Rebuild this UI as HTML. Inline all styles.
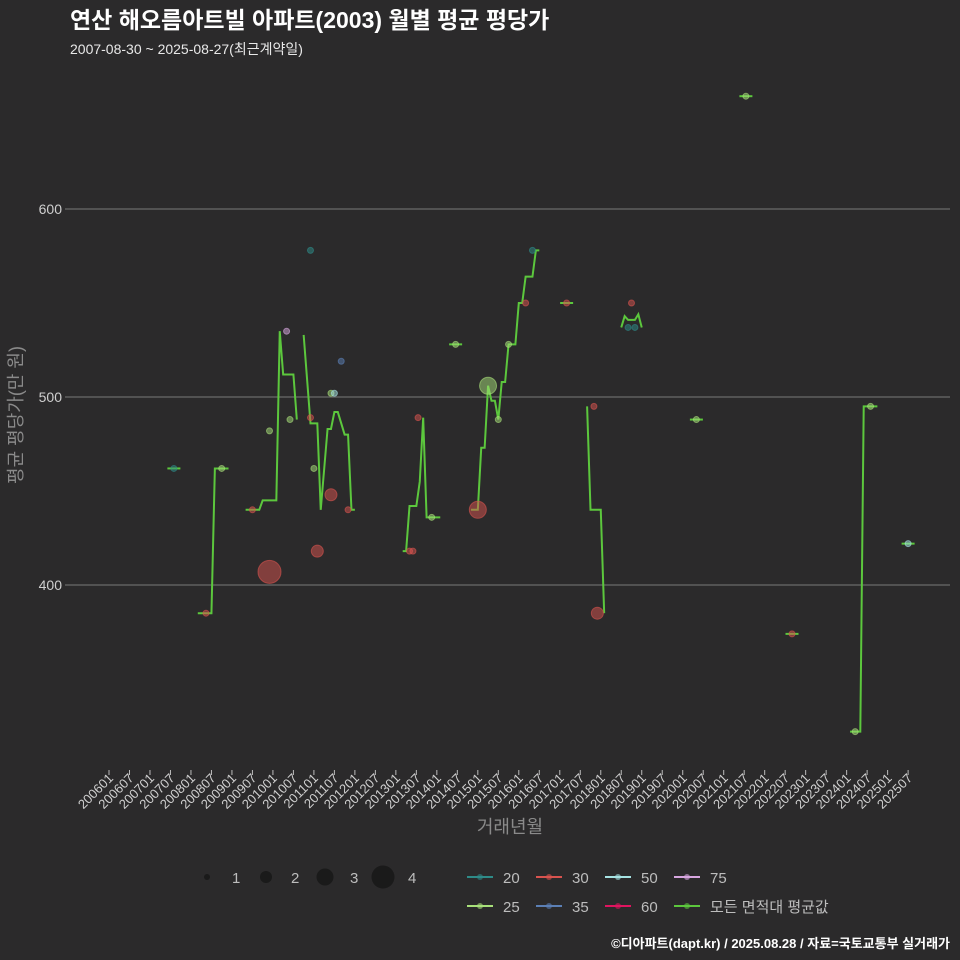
<!DOCTYPE html>
<html><head><meta charset="utf-8">
<style>
body{margin:0;background:#2b2a2b;}
svg{display:block;font-family:"Liberation Sans","Noto Sans CJK KR",sans-serif;}
</style></head>
<body>
<svg id="chart" width="960" height="960" viewBox="0 0 960 960" xmlns="http://www.w3.org/2000/svg">
<rect width="960" height="960" fill="#2b2a2b"/>
<text x="70" y="28" fill="#ffffff" font-size="23" font-weight="bold">연산 해오름아트빌 아파트(2003) 월별 평균 평당가</text>
<text x="70" y="54" fill="#e8e8e8" font-size="14">2007-08-30 ~ 2025-08-27(최근계약일)</text>
<text transform="translate(22,415) rotate(-90)" text-anchor="middle" fill="#8a8a8a" font-size="18">평균 평당가(만 원)</text>
<text x="510" y="833" text-anchor="middle" fill="#8a8a8a" font-size="18">거래년월</text>
<g id="grid"></g><g id="xaxis"></g><g id="lines"></g><g id="points"></g>
<g id="legend"></g>
<text x="950" y="948" text-anchor="end" fill="#ffffff" font-size="13" font-weight="bold">©디아파트(dapt.kr) / 2025.08.28 / 자료=국토교통부 실거래가</text>
</svg>
<script>
// months since 2006-01
const yTicks=[400,500,600];
const xTickLabels=[];for(let y=2006;y<=2025;y++){xTickLabels.push(y+"01");xTickLabels.push(y+"07");}
const avgSegMonths=[[19],[26,30,31,35],[40,44,45,49,50,51,54,55],[57,59,61,62,64,65,66,67,69,70,71,72],[86,87,88,90,91,92,93,97],[101.5],[106,108,109,110,111,112,113,114,115,116,117,119,120,121,122,124,125,126],[134],[140,141,144,145],[150,151,152,154,155,156],[172],[186.5],[200],[217,220,221,225],[234]];
const avgSegValues=[[462],[385,385,462,462],[440,440,445,445,535,512,512,488],[533,486,486,440,483,483,492,492,480,480,440,440],[418,418,442,442,455,489,436,436],[528],[440,440,473,473,506,498,498,488,508,508,528,528,550,550,564,564,578,578],[550],[495,440,440,385],[537,543,541,541,544,537],[488],[660],[374],[322,322,495,495],[422]];
const ptMonths=[19,28.4,33,42,47,47,52,53,59,59,60,61,65,65,66,68,70,88,89,90.5,94.5,101.5,108,111,114,117,122,124,134,142,143,153,152,154,172,186.5,200,218.5,223,234];
const ptValues=[462,385,462,440,407,482,535,488,578,489,462,418,448,502,502,519,440,418,418,489,436,528,440,506,488,528,550,578,550,495,385,550,537,537,488,660,374,322,495,422];
const ptSizes=[20,30,25,30,30,25,75,25,20,30,25,30,30,25,50,35,30,30,30,30,25,25,30,25,25,25,30,20,30,30,30,30,20,20,25,25,30,25,25,50];
const ptCounts=[1,1,1,1,4,1,1,1,1,1,1,2,2,1,1,1,1,1,1,1,1,1,3,3,1,1,1,1,1,1,2,1,1,1,1,1,1,1,1,1];
const colors={20:"#2e8b88",25:"#a8e07a",30:"#d9534f",35:"#5b7fb5",50:"#a6e3e3",60:"#e0145f",75:"#d7a6e0"};
const NS="http://www.w3.org/2000/svg";
const X=m=>109+m*3.415;
const Y=v=>397-(v-500)*1.88;
const R=c=>[0,3,6,8.5,11.5][c];
function mk(t,a,p){const e=document.createElementNS(NS,t);for(const k in a)e.setAttribute(k,a[k]);p.appendChild(e);return e;}
const grid=document.getElementById('grid');
yTicks.forEach(v=>{
 const l=mk('line',{x1:65,x2:950,y1:Y(v),y2:Y(v),stroke:'#6a6a6a','stroke-width':1.2},grid);
 
 
 const t=mk('text',{x:62,y:Y(v)+5,'text-anchor':'end',fill:'#cfcfcf','font-size':14},grid);t.textContent=v;
 
 
});
const xa=document.getElementById('xaxis');
xTickLabels.forEach((lab,i)=>{
 const x=X(i*6);
 const tk=mk('line',{x1:x,x2:x,y1:770,y2:775,stroke:'#bbbbbb','stroke-width':1},xa);
 
 
 const t=mk('text',{transform:`translate(${x+5},${779}) rotate(-45)`,'text-anchor':'end',fill:'#d0d0d0','font-size':13},xa);t.textContent=lab;
 
 
});
const lg=document.getElementById('lines');
avgSegMonths.forEach((ms,i)=>{
 const vs=avgSegValues[i];let pts;
 if(ms.length===1)pts=[[X(ms[0])-6.5,Y(vs[0])],[X(ms[0])+6.5,Y(vs[0])]];
 else pts=ms.map((m,j)=>[X(m),Y(vs[j])]);
 const p=mk('polyline',{points:pts.map(p=>p.join(',')).join(' '),fill:'none',stroke:'#5cc73d','stroke-width':2},lg);
 
 
});
const pg=document.getElementById('points');
ptMonths.forEach((m,i)=>{
 const c=mk('circle',{cx:X(m),cy:Y(ptValues[i]),r:R(ptCounts[i]),fill:colors[ptSizes[i]],'fill-opacity':0.5,stroke:colors[ptSizes[i]],'stroke-opacity':0.6},pg);
 
 
});
const leg=document.getElementById('legend');
[[1,207],[2,266],[3,325],[4,383]].forEach(([c,x])=>{
 const e=mk('circle',{cx:x,cy:877,r:R(c),fill:'#1a1a1a'},leg);
 
 
 const t=mk('text',{x:x+25,y:883,fill:'#bdbdbd','font-size':15},leg);t.textContent=c;
});
const items=[["20",480,877,colors[20]],["30",549,877,colors[30]],["50",618,877,colors[50]],["75",687,877,colors[75]],["25",480,906,colors[25]],["35",549,906,colors[35]],["60",618,906,colors[60]],["모든 면적대 평균값",687,906,"#5cc73d"]];
items.forEach(([lab,x,y,col])=>{
 const g=mk('g',{},leg);
 
 
 mk('line',{x1:x-13,x2:x+13,y1:y,y2:y,stroke:col,'stroke-width':2},g);
 mk('circle',{cx:x,cy:y,r:3,fill:col,'fill-opacity':0.6},g);
 const t=mk('text',{x:x+23,y:y+6,fill:'#bdbdbd','font-size':15},g);t.textContent=lab;
});
</script>
</body></html>
